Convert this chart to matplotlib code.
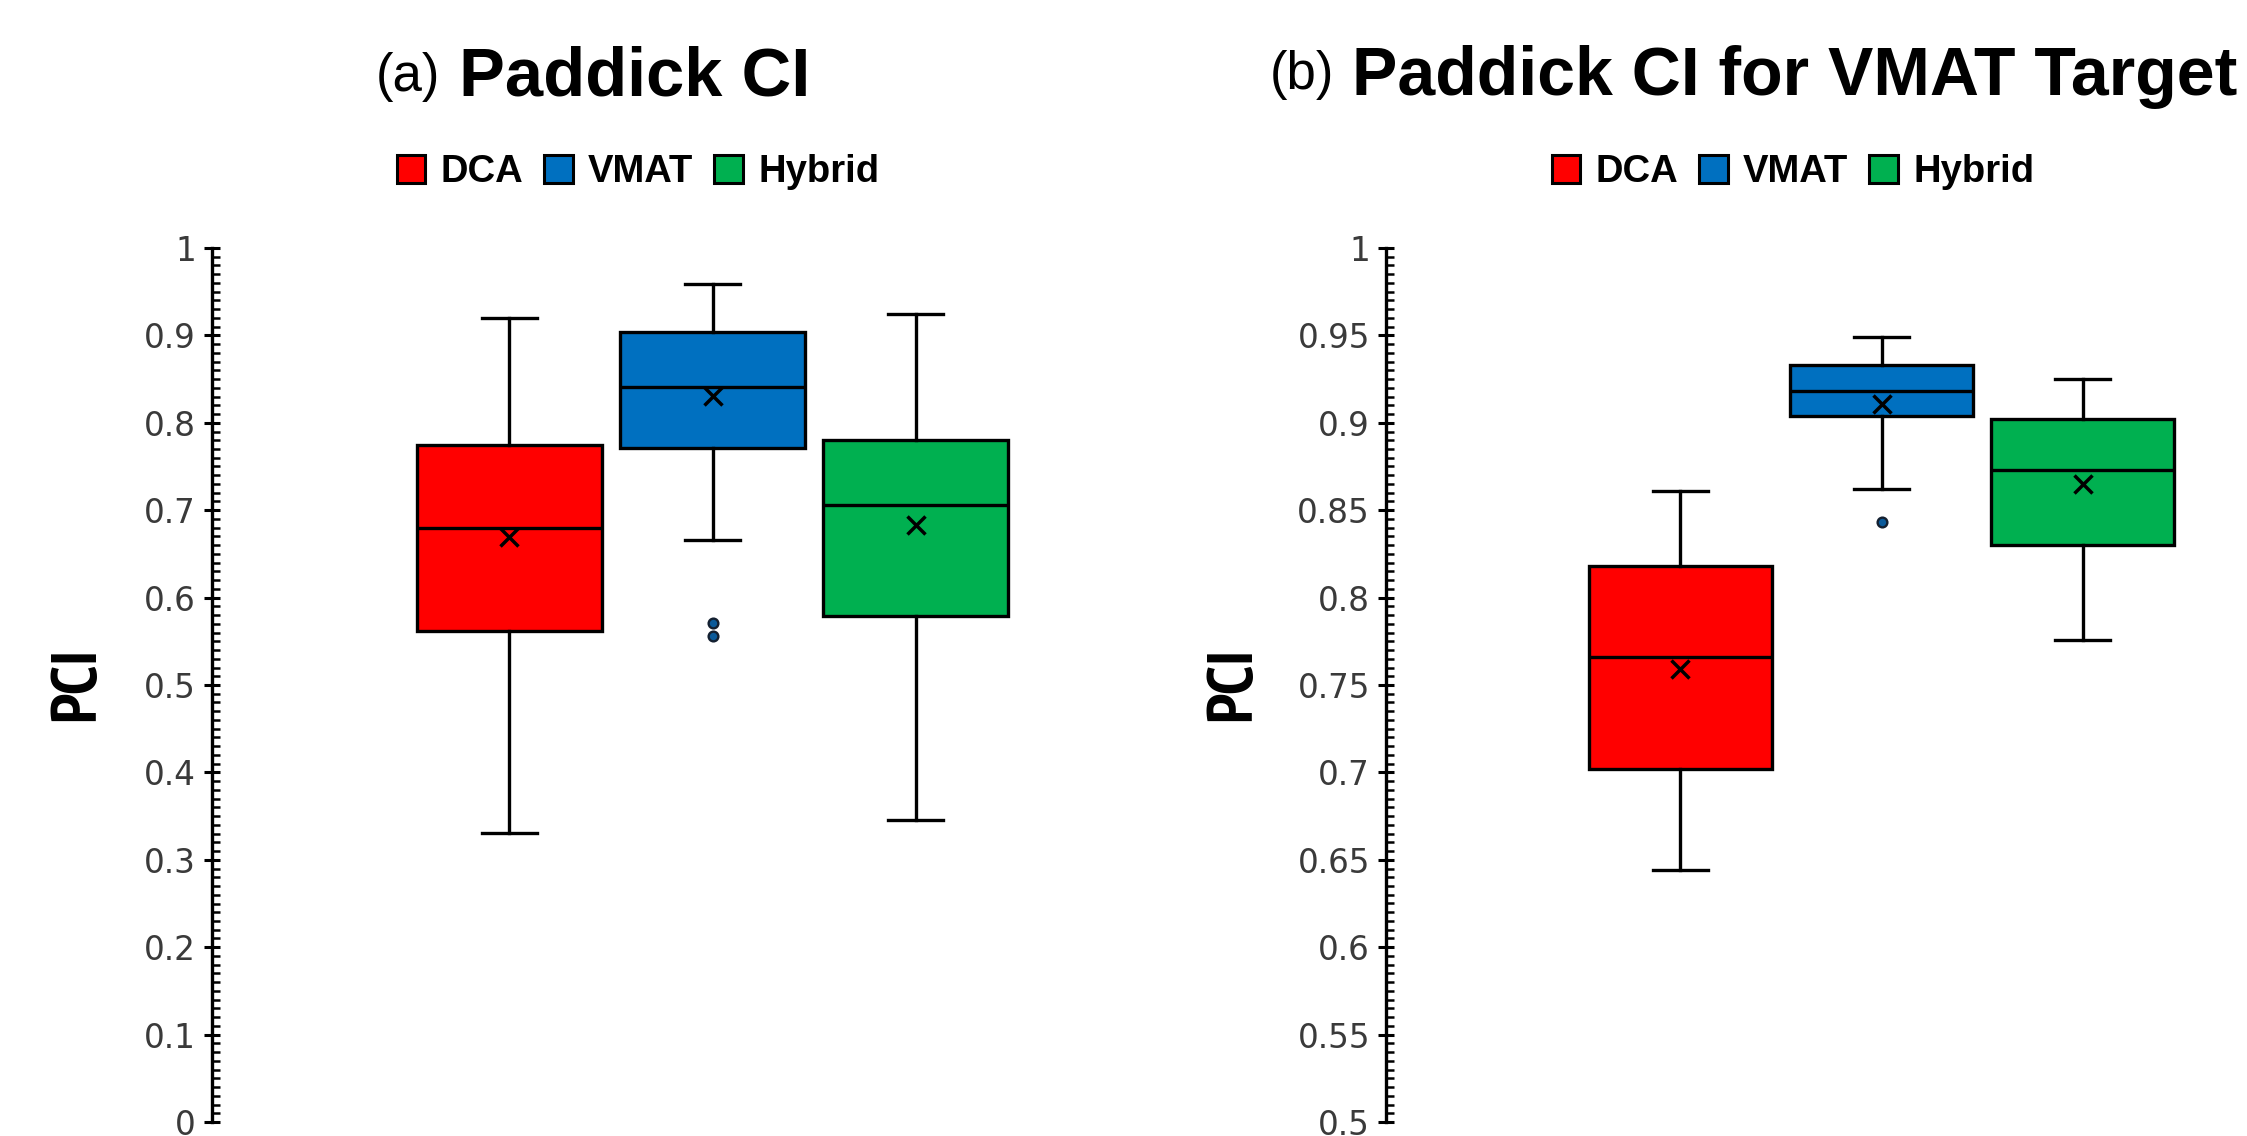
import matplotlib
matplotlib.use("Agg")
import matplotlib.pyplot as plt
from matplotlib import font_manager
from matplotlib.patches import Patch
from matplotlib.ticker import MultipleLocator, FuncFormatter

# ---- data ----
groups = ["DCA", "VMAT", "Hybrid"]
colors = ["#FF0000", "#0070C0", "#00B050"]

# panel (a): Paddick CI
a_whislo = [0.331, 0.666, 0.346]
a_q1 = [0.562, 0.771, 0.579]
a_med = [0.680, 0.841, 0.706]
a_q3 = [0.775, 0.904, 0.780]
a_whishi = [0.920, 0.959, 0.924]
a_mean = [0.669, 0.831, 0.683]
a_fliers = [[], [0.571, 0.556], []]

# panel (b): Paddick CI for VMAT target
b_whislo = [0.644, 0.862, 0.776]
b_q1 = [0.702, 0.904, 0.830]
b_med = [0.766, 0.918, 0.873]
b_q3 = [0.818, 0.933, 0.902]
b_whishi = [0.861, 0.949, 0.925]
b_mean = [0.759, 0.911, 0.865]
b_fliers = [[], [0.843], []]

W, H = 2247, 1136
DPI = 100

fonts = font_manager.fontManager.ttflist
avail = {f.name for f in fonts}
SANS = "Liberation Sans" if "Liberation Sans" in avail else "DejaVu Sans"

# narrow bold face for the axis titles, if one is installed
label_font = None
for f in fonts:
    if "Narrow" in f.name and f.weight in ("bold", 700):
        label_font = f.fname
        break
if label_font is None:
    for f in fonts:
        if f.stretch == "condensed" and f.weight in ("bold", 700):
            label_font = f.fname
            break
if label_font is not None:
    LABEL_PROP = font_manager.FontProperties(fname=label_font, size=46)
else:
    LABEL_PROP = font_manager.FontProperties(family=SANS, weight="bold", size=40)


def fx(px):
    return px / W


def fy(py):
    return 1 - py / H


def make_stats(lo, q1, med, q3, hi, mean, fliers):
    out = []
    for i in range(len(med)):
        out.append(dict(whislo=lo[i], q1=q1[i], med=med[i], q3=q3[i], whishi=hi[i],
                        mean=mean[i], fliers=fliers[i]))
    return out


def draw_panel(ax, stats, ylim, major, minor):
    bp = ax.bxp(
        stats,
        positions=[1, 2, 3],
        widths=0.91,
        capwidths=0.27,
        patch_artist=True,
        showmeans=True,
        boxprops=dict(edgecolor="black", linewidth=2.4),
        medianprops=dict(color="black", linewidth=2.4),
        whiskerprops=dict(color="black", linewidth=2.4),
        capprops=dict(color="black", linewidth=2.4),
        meanprops=dict(marker="x", markersize=13, markeredgecolor="black",
                       markeredgewidth=2.5, zorder=5),
        flierprops=dict(marker="o", markersize=7, markerfacecolor="#0a5a9a",
                        markeredgecolor="#142030", markeredgewidth=1.7),
    )
    for patch, c in zip(bp["boxes"], colors):
        patch.set_facecolor(c)

    ax.set_xlim(-0.465, 4.46)
    ax.set_ylim(*ylim)
    for s in ("top", "right", "bottom"):
        ax.spines[s].set_visible(False)
    ax.spines["left"].set_linewidth(2.4)
    ax.set_xticks([])
    ax.yaxis.set_major_locator(MultipleLocator(major))
    ax.yaxis.set_minor_locator(MultipleLocator(minor))
    ax.yaxis.set_major_formatter(FuncFormatter(lambda v, p: f"{round(v, 3):g}"))
    ax.tick_params(axis="y", which="major", direction="inout", length=11, width=2.2,
                   pad=6, labelsize=23.5, labelcolor="#3a3a3a")
    ax.tick_params(axis="y", which="minor", direction="in", length=5.5, width=1.8)
    for lab in ax.get_yticklabels():
        lab.set_family("DejaVu Sans")


fig = plt.figure(figsize=(W / DPI, H / DPI), dpi=DPI)

ax_top, ax_bot = 248, 1122
ax_a = fig.add_axes([fx(212), fy(ax_bot), fx(1000), (ax_bot - ax_top) / H])
ax_b = fig.add_axes([fx(1386), fy(ax_bot), fx(990), (ax_bot - ax_top) / H])

draw_panel(ax_a, make_stats(a_whislo, a_q1, a_med, a_q3, a_whishi, a_mean, a_fliers),
           (0, 1), 0.1, 0.01)
draw_panel(ax_b, make_stats(b_whislo, b_q1, b_med, b_q3, b_whishi, b_mean, b_fliers),
           (0.5, 1), 0.05, 0.005)

# titles
fig.text(fx(376), fy(91), "(a)", fontsize=38, family=SANS, va="baseline", ha="left")
fig.text(fx(459), fy(96), "Paddick CI", fontsize=49.5, family=SANS, weight="bold",
         va="baseline", ha="left")
fig.text(fx(1270), fy(89), "(b)", fontsize=38, family=SANS, va="baseline", ha="left")
fig.text(fx(1352), fy(95), "Paddick CI for VMAT Target", fontsize=49, family=SANS,
         weight="bold", va="baseline", ha="left")

# y labels
for cx in (78, 1234):
    fig.text(fx(cx), fy(684), "PCI", fontproperties=LABEL_PROP,
             rotation=90, ha="center", va="center")

# legends
handles = [Patch(facecolor=c, edgecolor="black", linewidth=2.2, label=g)
           for g, c in zip(groups, colors)]
for cx in (638, 1793):
    fig.legend(handles=handles, loc="center", bbox_to_anchor=(fx(cx), fy(172)),
               ncol=3, frameon=False, handlelength=0.75, handleheight=0.75,
               handletextpad=0.4, columnspacing=0.55, borderpad=0,
               prop=dict(family=SANS, weight="bold", size=27.5))

fig.savefig("out.png", dpi=DPI)
